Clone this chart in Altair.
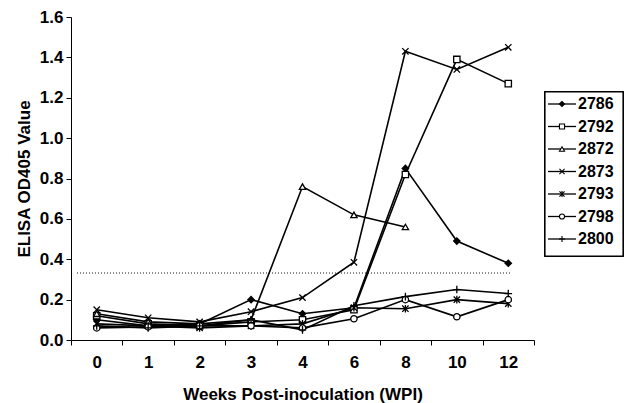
import altair as alt
import pandas as pd

weeks = ["0", "1", "2", "3", "4", "6", "8", "10", "12"]
series_names = ["2786", "2792", "2872", "2873", "2793", "2798", "2800"]
s2786 = [0.10, 0.07, 0.08, 0.20, 0.13, 0.16, 0.85, 0.49, 0.38]
s2792 = [0.12, 0.08, 0.07, 0.09, 0.10, 0.15, 0.82, 1.39, 1.27]
s2872 = [0.13, 0.09, 0.08, 0.10, 0.76, 0.62, 0.56, None, None]
s2873 = [0.15, 0.11, 0.09, 0.14, 0.21, 0.385, 1.43, 1.34, 1.45]
s2793 = [0.08, 0.07, 0.06, 0.07, 0.08, 0.16, 0.155, 0.20, 0.18]
s2798 = [0.06, 0.065, 0.07, 0.07, 0.06, 0.105, 0.20, 0.115, 0.20]
s2800 = [0.07, 0.06, 0.07, 0.10, 0.05, 0.17, 0.215, 0.25, 0.23]
threshold = 0.33
y_ticks = [0.0, 0.2, 0.4, 0.6, 0.8, 1.0, 1.2, 1.4, 1.6]

all_series = [s2786, s2792, s2872, s2873, s2793, s2798, s2800]
rows = []
for name, vals in zip(series_names, all_series):
    for i, (w, v) in enumerate(zip(weeks, vals)):
        if v is not None:
            rows.append({"series": name, "wk": w, "idx": i, "value": v})
df = pd.DataFrame(rows)
leg_df = pd.DataFrame({"series": series_names})

shape_range = [
    "diamond",
    "square",
    "triangle-up",
    "M-1,-1L1,1M-1,1L1,-1",
    "M-1,-1L1,1M-1,1L1,-1M0,-1.2L0,1.2",
    "circle",
    "M-1.2,0L1.2,0M0,-1.2L0,1.2",
]
fill_range = ["black", "white", "white", "white", "black", "white", "white"]
shape_enc = alt.Shape("series:N", scale=alt.Scale(domain=series_names, range=shape_range), legend=None)
fill_enc = alt.Fill("series:N", scale=alt.Scale(domain=series_names, range=fill_range), legend=None)

FONT = "Liberation Sans"
LBL = 17
TTL = 17

x_enc = alt.X(
    "wk:N",
    sort=weeks,
    bandPosition=0.5,
    scale=alt.Scale(type="band", domain=weeks, paddingInner=0, paddingOuter=0),
    axis=alt.Axis(
        title="Weeks Post-inoculation (WPI)",
        tickBand="extent",
        labelAngle=0,
        labelFont=FONT,
        labelFontSize=LBL,
        labelFontWeight="bold",
        labelColor="black",
        labelPadding=9,
        titleFont=FONT,
        titleFontSize=TTL,
        titleFontWeight="bold",
        titleColor="black",
        titlePadding=16,
        domainColor="black",
        tickColor="black",
        tickSize=5,
        grid=False,
    ),
)
y_enc = alt.Y(
    "value:Q",
    scale=alt.Scale(domain=[0, 1.6], nice=False, zero=True),
    axis=alt.Axis(
        title="ELISA OD405 Value",
        values=y_ticks,
        format=".1f",
        labelFont=FONT,
        labelFontSize=LBL,
        labelFontWeight="bold",
        labelColor="black",
        labelPadding=3,
        titleFont=FONT,
        titleFontSize=TTL,
        titleFontWeight="bold",
        titleColor="black",
        titlePadding=6,
        domainColor="black",
        tickColor="black",
        tickSize=5,
        grid=False,
    ),
)

thr = alt.Chart(df).mark_rule(color="#888888", strokeDash=[1, 2], strokeWidth=1).encode(
    y=alt.datum(threshold), x=alt.value(6), x2=alt.value(441)
)
lines = alt.Chart(df).mark_line(color="black", strokeWidth=1.6).encode(
    x=x_enc, y=y_enc, detail="series:N", order="idx:Q"
)
pts = alt.Chart(df).mark_point(filled=True, stroke="black", strokeWidth=1.3, opacity=1).encode(
    x=x_enc, y=y_enc, shape=shape_enc, fill=fill_enc, size=alt.value(40)
)
main = alt.layer(thr, lines, pts)

leg_y = alt.Y(
    "series:N",
    scale=alt.Scale(type="point", domain=series_names, range=[87, 222], padding=0),
    axis=None,
)
box = alt.Chart(leg_df).mark_rect(fill="white", stroke="black", strokeWidth=1.2).encode(
    x=alt.value(474), x2=alt.value(552), y=alt.value(75), y2=alt.value(239)
)
leg_rules = alt.Chart(leg_df).mark_rule(color="black", strokeWidth=1.3).encode(
    y=leg_y, x=alt.value(477), x2=alt.value(505)
)
leg_pts = alt.Chart(leg_df).mark_point(filled=True, stroke="black", strokeWidth=1.1, opacity=1).encode(
    y=leg_y, x=alt.value(491), shape=shape_enc, fill=fill_enc, size=alt.value(26)
)
leg_txt = alt.Chart(leg_df).mark_text(
    align="left", baseline="middle", font=FONT, fontSize=16, fontWeight="bold", color="black"
).encode(y=leg_y, x=alt.value(507), text="series:N")
legend = alt.layer(box, leg_rules, leg_pts, leg_txt)

chart = (
    alt.layer(main, legend)
    .resolve_scale(y="independent")
    .properties(
        width=463,
        height=323,
        padding={"left": 71, "top": 17, "right": 92, "bottom": 63},
        autosize=alt.AutoSizeParams(type="none"),
        background="white",
    )
    .configure_view(stroke=None)
)

chart.save("out.html", embed_options={"renderer": "svg", "actions": False})
